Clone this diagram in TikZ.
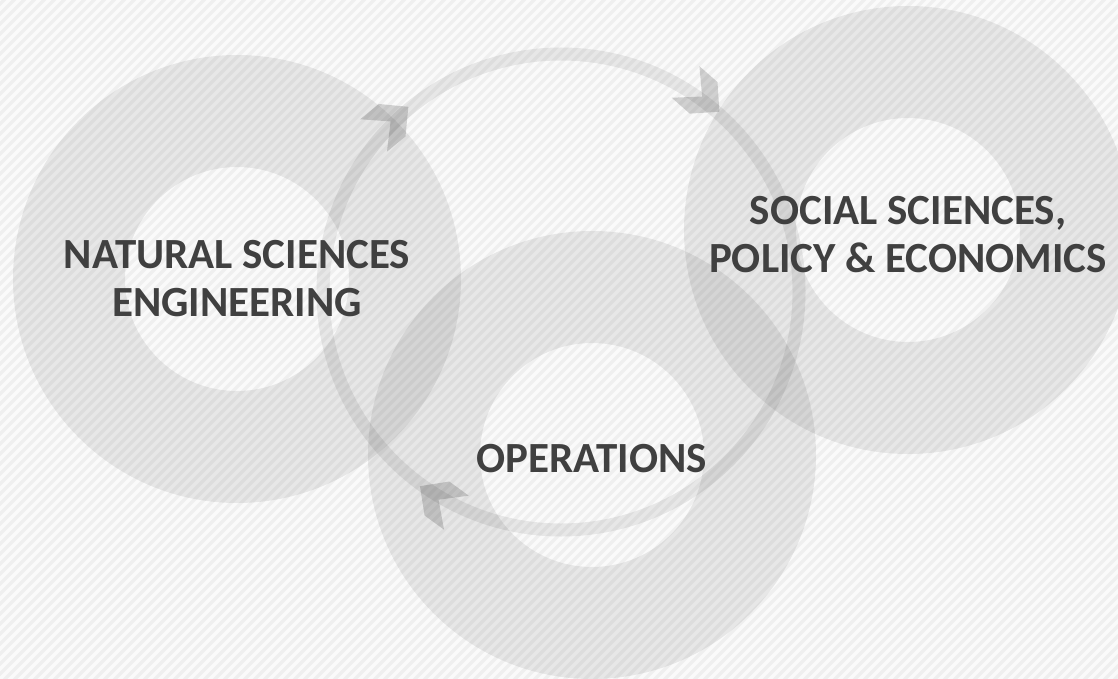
\documentclass[tikz,border=0pt]{standalone}
\usepackage{fontspec}
\setmainfont{Carlito}
\usetikzlibrary{calc}
\definecolor{bgbase}{HTML}{FAFAFA}
\definecolor{stripe}{HTML}{EFEFEF}
\definecolor{labelgray}{HTML}{404040}

% chevron arrow head on the cycle: #1 = angle on the cycle, #2 = name of its tip
\newcommand\chevronat[2]{%
  \coordinate (#2) at ($(cyc)+(#1:240)$);
  \fill[chevron] (#2) -- ($(#2)+(#1+225:29.7)$) -- ($(#2)+(#1+245:49.7)$)
    -- ($(#2)+(#1+270:23)$) -- ($(#2)+(#1+295:49.7)$) -- ($(#2)+(#1+315:29.7)$) -- cycle;
}

\begin{document}
\begin{tikzpicture}[x=1pt,y=-1pt,
  ringfill/.style={fill=black, fill opacity=0.075, even odd rule},
  band/.style={draw=black, draw opacity=0.075, line width=13pt},
  chevron/.style={fill=black, fill opacity=0.16},
  label/.style={text=labelgray, font=\bfseries\fontsize{43}{48}\selectfont, align=center}]
\useasboundingbox (0,0) rectangle (1118,679);

% striped backdrop
\fill[bgbase] (0,0) rectangle (1118,679);
\begin{scope}
  \clip (0,0) rectangle (1118,679);
  \foreach \k in {-70,...,113}
    \draw[stripe, line width=3.4pt] (10*\k,684) -- ++(690,-690);
\end{scope}

% ring centres and the centre of the cycle
\coordinate (ringL) at (237,279);
\coordinate (ringR) at (908,230);
\coordinate (ringB) at (592,455);
\coordinate (cyc) at (561,292);

% three translucent rings
\fill[ringfill] (ringL) circle (224pt) (ringL) circle (112pt);
\fill[ringfill] (ringR) circle (224pt) (ringR) circle (112pt);
\fill[ringfill] (ringB) circle (224pt) (ringB) circle (112pt);

% the cycle band with its three chevrons
\draw[band] (cyc) circle (238pt);
\chevronat{-129.5}{tipA}
\chevronat{-48.7}{tipB}
\chevronat{126}{tipC}

% labels
\node[label] (nat) at (ringL) {NATURAL SCIENCES\\ENGINEERING};
\node[label] (soc) at (908,235) {SOCIAL SCIENCES,\\POLICY \& ECONOMICS};
\node[label] (ops) at (592,459) {OPERATIONS};
\end{tikzpicture}
\end{document}
